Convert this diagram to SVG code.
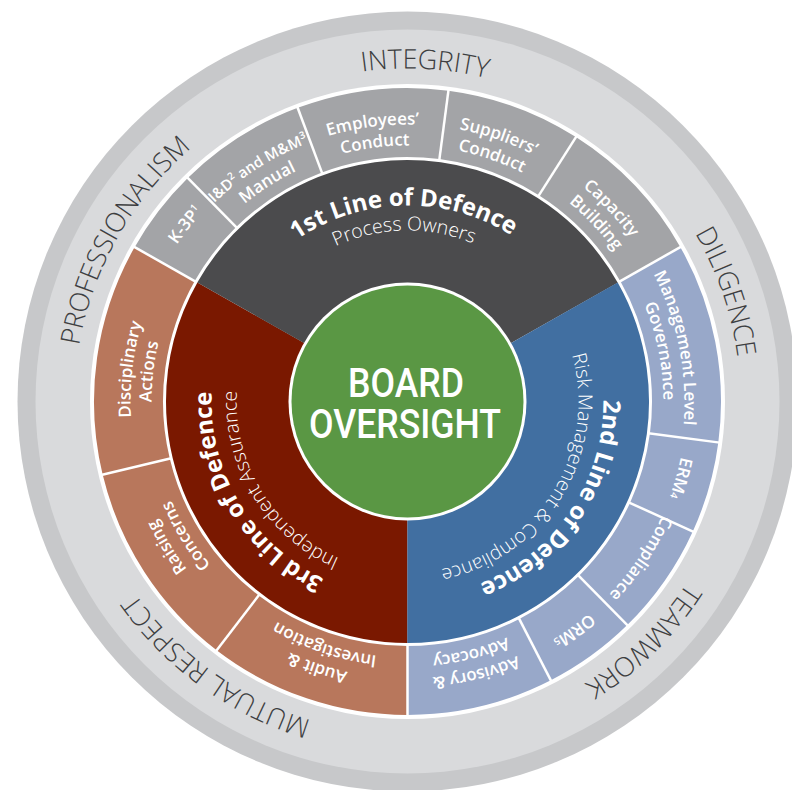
<svg xmlns="http://www.w3.org/2000/svg" width="792" height="790" viewBox="0 0 792 790">
  <defs>
    <!-- clockwise circles starting at the bottom; 50% offset = top of circle -->
    <path id="r333" d="M0,333 A333,333 0 1,1 0,-333 A333,333 0 1,1 0,333"/>
    <path id="r279" d="M0,279 A279,279 0 1,1 0,-279 A279,279 0 1,1 0,279"/>
    <path id="r277" d="M0,277 A277,277 0 1,1 0,-277 A277,277 0 1,1 0,277"/>
    <path id="r256" d="M0,256 A256,256 0 1,1 0,-256 A256,256 0 1,1 0,256"/>
    <path id="r196" d="M0,196 A196,196 0 1,1 0,-196 A196,196 0 1,1 0,196"/>
    <path id="r171" d="M0,171 A171,171 0 1,1 0,-171 A171,171 0 1,1 0,171"/>
  </defs>
  <style>
    text { font-family: "Open Sans", "Noto Sans", "Liberation Sans", sans-serif; text-anchor: middle; }
    .word { font-weight: 300; font-size: 27px; fill: #3d3e41; }
    .seg { font-weight: 600; font-size: 17px; fill: #ffffff; }
    .tight { font-size: 15px; }
    .title { font-weight: 700; font-size: 24px; fill: #ffffff; }
    .sub { font-weight: 300; font-size: 19.5px; fill: #ffffff; }
    .sup { font-size: 10px; }
    .band { fill: none; stroke-width: 69; }
    .sector { fill: none; stroke-width: 241.5; }
    .gray { stroke: #a3a4a7; }
    .lblue { stroke: #98a8c9; }
    .brown { stroke: #b8775c; }
    .divider line { stroke: #ffffff; stroke-width: 2.5; }
    .board { font-family: Roboto, "Open Sans", sans-serif; font-weight: 500; font-size: 40px; fill: #ffffff; }
  </style>

  <rect width="792" height="790" fill="#ffffff"/>

  <g transform="translate(407.5,401.5)">
    <!-- values ring -->
    <g id="values-ring">
      <circle r="390" fill="#c7c8ca"/>
      <circle r="372" fill="#d9dadc"/>
      <circle r="317.5" fill="#ffffff"/>
    </g>

    <g id="value-integrity" transform="rotate(3)">
      <text class="word"><textPath href="#r333" startOffset="50%">INTEGRITY</textPath></text>
    </g>
    <g id="value-diligence" transform="rotate(71)">
      <text class="word"><textPath href="#r333" startOffset="50%">DILIGENCE</textPath></text>
    </g>
    <g id="value-teamwork" transform="rotate(135.5)">
      <text class="word"><textPath href="#r333" startOffset="50%">TEAMWORK</textPath></text>
    </g>
    <g id="value-mutual-respect" transform="rotate(215.8)">
      <text class="word"><textPath href="#r333" startOffset="50%">MUTUAL RESPECT</textPath></text>
    </g>
    <g id="value-professionalism" transform="rotate(299.6)">
      <text class="word"><textPath href="#r333" startOffset="50%">PROFESSIONALISM</textPath></text>
    </g>

    <!-- inner sectors: the three lines of defence -->
    <g id="line-3">
      <circle r="120.75" class="sector" stroke="#7a1800" stroke-dasharray="251.85 1000" transform="rotate(90)"/>
    </g>
    <g id="line-1">
      <circle r="120.75" class="sector" stroke="#4b4b4d" stroke-dasharray="255 1000" transform="rotate(209.5)"/>
    </g>
    <g id="line-2">
      <circle r="120.75" class="sector" stroke="#416fa1" stroke-dasharray="251.85 1000" transform="rotate(330.5)"/>
    </g>

    <!-- outer segments, 1st line -->
    <g id="seg-k3p">
      <circle r="279" class="band gray" stroke-dasharray="77.91 2000" transform="rotate(209.5)"/>
      <g transform="rotate(308.5)">
        <text class="seg"><textPath href="#r279" startOffset="50%">K-3P<tspan class="sup" dy="-6">1</tspan></textPath></text>
      </g>
    </g>
    <g id="seg-manual">
      <circle r="279" class="band gray" stroke-dasharray="116.87 2000" transform="rotate(225.5)"/>
      <g transform="rotate(327.4)">
        <text class="seg tight"><textPath href="#r277" startOffset="50%">I&amp;D<tspan class="sup" dy="-6">2</tspan><tspan dy="6"> and M&amp;M</tspan><tspan class="sup" dy="-6">3</tspan></textPath></text>
        <text class="seg"><textPath href="#r256" startOffset="50%">Manual</textPath></text>
      </g>
    </g>
    <g id="seg-employees">
      <circle r="279" class="band gray" stroke-dasharray="136.35 2000" transform="rotate(249.5)"/>
      <g transform="rotate(352.8)">
        <text class="seg"><textPath href="#r277" startOffset="50%">Employees’</textPath></text>
        <text class="seg"><textPath href="#r256" startOffset="50%">Conduct</textPath></text>
      </g>
    </g>
    <g id="seg-suppliers">
      <circle r="279" class="band gray" stroke-dasharray="121.74 2000" transform="rotate(277.5)"/>
      <g transform="rotate(19)">
        <text class="seg"><textPath href="#r277" startOffset="50%">Suppliers’</textPath></text>
        <text class="seg"><textPath href="#r256" startOffset="50%">Conduct</textPath></text>
      </g>
    </g>
    <g id="seg-capacity">
      <circle r="279" class="band gray" stroke-dasharray="136.35 2000" transform="rotate(302.5)"/>
      <g transform="rotate(46.5)">
        <text class="seg"><textPath href="#r277" startOffset="50%">Capacity</textPath></text>
        <text class="seg"><textPath href="#r256" startOffset="50%">Building</textPath></text>
      </g>
    </g>

    <!-- outer segments, 2nd line -->
    <g id="seg-governance">
      <circle r="279" class="band lblue" stroke-dasharray="180.17 2000" transform="rotate(330.5)"/>
      <g transform="rotate(78.7)">
        <text class="seg"><textPath href="#r277" startOffset="50%">Management Level</textPath></text>
        <text class="seg"><textPath href="#r256" startOffset="50%">Governance</textPath></text>
      </g>
    </g>
    <g id="seg-erm">
      <circle r="279" class="band lblue" stroke-dasharray="82.78 2000" transform="rotate(7.5)"/>
      <g transform="rotate(105.7)">
        <text class="seg"><textPath href="#r279" startOffset="50%">ERM<tspan class="sup">4</tspan></textPath></text>
      </g>
    </g>
    <g id="seg-compliance">
      <circle r="279" class="band lblue" stroke-dasharray="102.26 2000" transform="rotate(24.5)"/>
      <g transform="rotate(123.9)">
        <text class="seg"><textPath href="#r279" startOffset="50%">Compliance</textPath></text>
      </g>
    </g>
    <g id="seg-orm">
      <circle r="279" class="band lblue" stroke-dasharray="84.24 2000" transform="rotate(45.5)"/>
      <g transform="rotate(144)">
        <text class="seg"><textPath href="#r279" startOffset="50%">ORM<tspan class="sup">5</tspan></textPath></text>
      </g>
    </g>
    <g id="seg-advisory">
      <circle r="279" class="band lblue" stroke-dasharray="132.45 2000" transform="rotate(62.8)"/>
      <g transform="rotate(165.8)">
        <text class="seg"><textPath href="#r277" startOffset="50%">Advisory &amp;</textPath></text>
        <text class="seg"><textPath href="#r256" startOffset="50%">Advocacy</textPath></text>
      </g>
    </g>

    <!-- outer segments, 3rd line -->
    <g id="seg-audit">
      <circle r="279" class="band brown" stroke-dasharray="182.61 2000" transform="rotate(90)"/>
      <g transform="rotate(198.8)">
        <text class="seg"><textPath href="#r277" startOffset="50%">Audit &amp;</textPath></text>
        <text class="seg"><textPath href="#r256" startOffset="50%">Investigation</textPath></text>
      </g>
    </g>
    <g id="seg-raising">
      <circle r="279" class="band brown" stroke-dasharray="189.91 2000" transform="rotate(127.5)"/>
      <g transform="rotate(238.8)">
        <text class="seg"><textPath href="#r277" startOffset="50%">Raising</textPath></text>
        <text class="seg"><textPath href="#r256" startOffset="50%">Concerns</textPath></text>
      </g>
    </g>
    <g id="seg-disciplinary">
      <circle r="279" class="band brown" stroke-dasharray="209.39 2000" transform="rotate(166.5)"/>
      <g transform="rotate(276.6)">
        <text class="seg"><textPath href="#r277" startOffset="50%">Disciplinary</textPath></text>
        <text class="seg"><textPath href="#r256" startOffset="50%">Actions</textPath></text>
      </g>
    </g>

    <!-- white separators between segments -->
    <g id="connectors" class="divider">
      <line x1="243" x2="315" transform="rotate(209.5)"/>
      <line x1="243" x2="315" transform="rotate(225.5)"/>
      <line x1="243" x2="315" transform="rotate(249.5)"/>
      <line x1="243" x2="315" transform="rotate(277.5)"/>
      <line x1="243" x2="315" transform="rotate(302.5)"/>
      <line x1="243" x2="315" transform="rotate(330.5)"/>
      <line x1="243" x2="315" transform="rotate(7.5)"/>
      <line x1="243" x2="315" transform="rotate(24.5)"/>
      <line x1="243" x2="315" transform="rotate(45.5)"/>
      <line x1="243" x2="315" transform="rotate(62.8)"/>
      <line x1="243" x2="315" transform="rotate(90)"/>
      <line x1="243" x2="315" transform="rotate(127.5)"/>
      <line x1="243" x2="315" transform="rotate(166.5)"/>
    </g>

    <!-- sector titles -->
    <g id="line-1-label" transform="rotate(358.8)">
      <text class="title"><textPath href="#r196" startOffset="50%">1st Line of Defence</textPath></text>
      <text class="sub"><textPath href="#r171" startOffset="50%">Process Owners</textPath></text>
    </g>
    <g id="line-2-label">
      <text class="title" transform="rotate(124)"><textPath href="#r196" startOffset="50%">2nd Line of Defence</textPath></text>
      <text class="sub" transform="rotate(121.5)"><textPath href="#r171" startOffset="50%">Risk Management &amp; Compliance</textPath></text>
    </g>
    <g id="line-3-label">
      <text class="title" transform="rotate(239)"><textPath href="#r196" startOffset="50%">3rd Line of Defence</textPath></text>
      <text class="sub" transform="rotate(238.5)"><textPath href="#r171" startOffset="50%">Independent Assurance</textPath></text>
    </g>

    <!-- centre -->
    <g id="board-oversight">
      <circle r="119" fill="#ffffff"/>
      <circle r="116" fill="#5a9744"/>
      <text class="board" transform="scale(0.89,1)"><tspan x="-1.7" y="-4.5">BOARD</tspan><tspan x="-2.8" y="36.5">OVERSIGHT</tspan></text>
    </g>
  </g>
</svg>
